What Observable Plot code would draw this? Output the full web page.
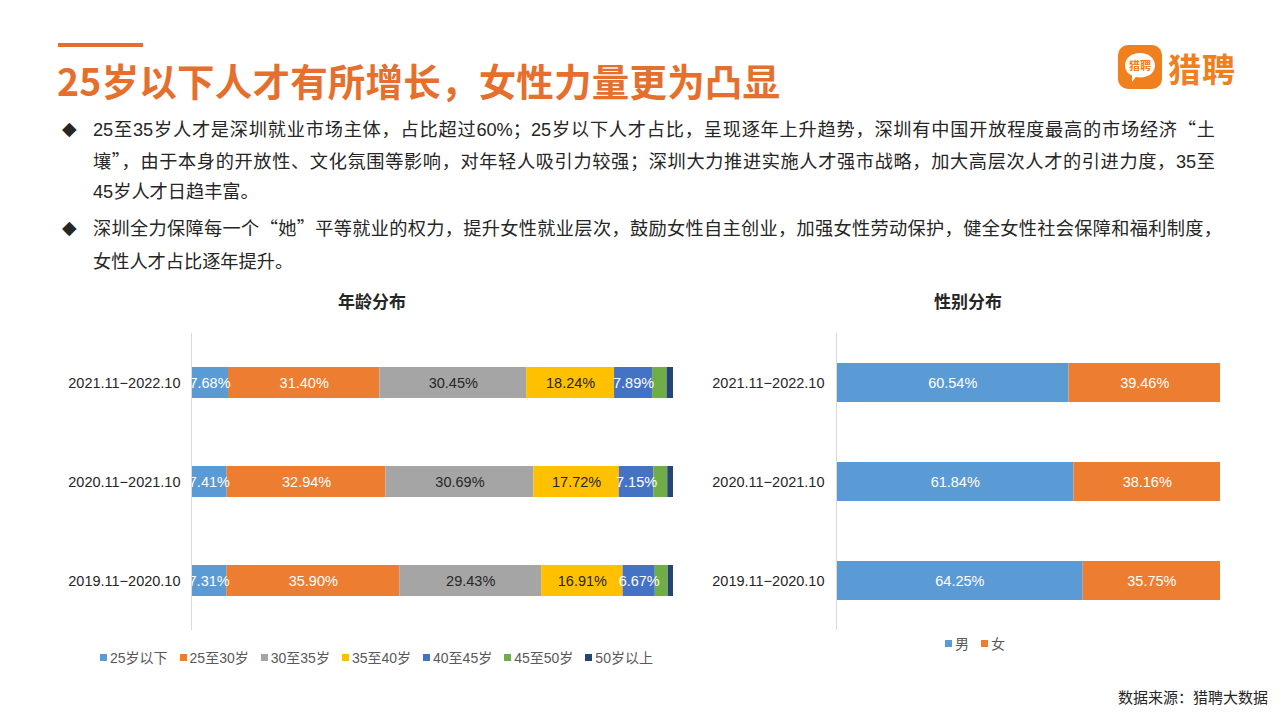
<!DOCTYPE html>
<html>
<head>
<meta charset="utf-8">
<script src="https://cdn.jsdelivr.net/npm/d3@7"></script>
<script src="https://cdn.jsdelivr.net/npm/@observablehq/plot@0.6"></script>
<style>
  html, body { margin:0; padding:0; background:#fff; }
  body { width:1280px; height:720px; position:relative; overflow:hidden;
         font-family:"Liberation Sans","Noto Sans CJK SC",sans-serif; color:#262626; }
  .abs { position:absolute; }
  .cjk { font-family:"Noto Sans CJK SC",sans-serif; }
  .topbar { left:58px; top:43px; width:85px; height:4px; background:#E5702E; }
  .title { left:57px; top:52px; font-size:37.5px; font-weight:700; color:#E5702E; white-space:nowrap; letter-spacing:0.2px;
           font-family:"Noto Sans CJK SC",sans-serif; }
  .bullet { font-size:19px; color:#262626; font-family:"DejaVu Sans",sans-serif; }
  .line { font-size:18.2px; white-space:nowrap; color:#262626; line-height:24px; }
  .just { text-align:justify; text-align-last:justify; white-space:normal; }
  .ctitle { font-size:17px; font-weight:700; color:#262626; transform:translateX(-50%); white-space:nowrap; font-family:"Noto Sans CJK SC",sans-serif; }
  .legend { display:flex; align-items:center; font-size:14px; color:#595959; white-space:nowrap; }
  .legend .item { display:flex; align-items:center; margin-right:12px; }
  .legend .sw { width:7px; height:7px; margin-right:3px; }
  .src { right:12px; top:686px; font-size:15px; color:#262626; }
  .logo-box { left:1118px; top:45px; width:44px; height:44px; border-radius:10px; background:#F07F1E; }
  .logo-text { left:1168px; top:44px; font-size:33px; font-weight:700; color:#F07F1E; letter-spacing:1px; font-family:"Noto Sans CJK SC",sans-serif; }
</style>
</head>
<body>
<div class="abs topbar"></div>
<div class="abs title">25岁以下人才有所增长，女性力量更为凸显</div>

<div class="abs logo-box">
  <svg width="44" height="44" viewBox="0 0 44 44">
    <path d="M22 8 C31 8 37 13.5 37 20.5 C37 27.5 31 32.5 22 32.5 C20.5 32.5 19 32.3 17.7 32 L14 37 L14 30.5 C9.5 28.5 7 25 7 20.5 C7 13.5 13 8 22 8 Z" fill="#fff"/>
    <text x="22" y="25" text-anchor="middle" font-size="11" font-weight="700" fill="#F07F1E" font-family="Noto Sans CJK SC">猎聘</text>
  </svg>
</div>
<div class="abs logo-text">猎聘</div>

<div class="abs bullet" style="left:62px; top:117px;">◆</div>
<div class="abs line just" style="left:93px; top:116px; width:1122px;">25至35岁人才是深圳就业市场主体，占比超过60%；25岁以下人才占比，呈现逐年上升趋势，深圳有中国开放程度最高的市场经济<span class="cjk">“</span>土</div>
<div class="abs line just" style="left:93px; top:148px; width:1122px;">壤<span class="cjk">”</span>，由于本身的开放性、文化氛围等影响，对年轻人吸引力较强；深圳大力推进实施人才强市战略，加大高层次人才的引进力度，35至</div>
<div class="abs line" style="left:93px; top:180px;">45岁人才日趋丰富。</div>
<div class="abs bullet" style="left:62px; top:216px;">◆</div>
<div class="abs line just" style="left:93px; top:215px; width:1129px;">深圳全力保障每一个<span class="cjk">“</span>她<span class="cjk">”</span>平等就业的权力，提升女性就业层次，鼓励女性自主创业，加强女性劳动保护，健全女性社会保障和福利制度，</div>
<div class="abs line" style="left:93px; top:250px;">女性人才占比逐年提升。</div>

<div class="abs ctitle" style="left:372px; top:288px;">年龄分布</div>
<div class="abs ctitle" style="left:968px; top:288px;">性别分布</div>

<div id="ageChart" class="abs" style="left:0px; top:333px;"></div>
<div id="genderChart" class="abs" style="left:690px; top:333px;"></div>

<div id="ageLegend" class="abs legend" style="left:100px; top:647px;"></div>
<div id="genderLegend" class="abs legend" style="left:945px; top:633px;"></div>

<div class="abs src">数据来源：猎聘大数据</div>

<script>
// ---- data ----
const periods = ["2021.11−2022.10", "2020.11−2021.10", "2019.11−2020.10"];
const ageGroups = ["25岁以下", "25至30岁", "30至35岁", "35至40岁", "40至45岁", "45至50岁", "50岁以上"];
const ageColors = ["#5B9BD5", "#ED7D31", "#A5A5A5", "#FFC000", "#4472C4", "#70AD47", "#264478"];
const age2022 = [7.68, 31.40, 30.45, 18.24, 7.89, 3.00, 1.34];
const age2021 = [7.41, 32.94, 30.69, 17.72, 7.15, 2.90, 1.19];
const age2020 = [7.31, 35.90, 29.43, 16.91, 6.67, 2.70, 1.08];
const ageRows = [age2022, age2021, age2020];
const whiteLabelAges = ["25岁以下", "25至30岁", "40至45岁"];
const darkLabelAges = ["30至35岁", "35至40岁"];

const genders = ["男", "女"];
const genderColors = ["#5B9BD5", "#ED7D31"];
const male = [60.54, 61.84, 64.25];
const female = [39.46, 38.16, 35.75];

const FONT = "'Liberation Sans','Noto Sans CJK SC',sans-serif";
const fmt = v => v.toFixed(2) + "%";

// ---- age chart ----
const ageData = [];
periods.forEach((p, i) => ageGroups.forEach((a, j) => ageData.push({period: p, age: a, value: ageRows[i][j]})));

const ageChart = Plot.plot({
  width: 690, height: 297,
  marginLeft: 191, marginRight: 17, marginTop: 0, marginBottom: 0,
  style: {fontFamily: FONT, fontSize: "14.5px", color: "#262626", background: "transparent"},
  x: {domain: [0, 100], axis: null},
  y: {domain: periods, paddingInner: 0.69, paddingOuter: 0.345, label: null, tickSize: 0, tickPadding: 11},
  color: {domain: ageGroups, range: ageColors},
  marks: [
    Plot.barX(ageData, {x: "value", y: "period", fill: "age"}),
    Plot.text(ageData, Plot.stackX({x: "value", y: "period",
      text: d => whiteLabelAges.includes(d.age) ? fmt(d.value) : null, fill: "white", fontSize: 14.5})),
    Plot.text(ageData, Plot.stackX({x: "value", y: "period",
      text: d => darkLabelAges.includes(d.age) ? fmt(d.value) : null, fill: "#262626", fontSize: 14.5})),
    Plot.ruleX([0], {stroke: "#d9d9d9"})
  ]
});
document.getElementById("ageChart").appendChild(ageChart);

// ---- gender chart ----
const genderData = [];
periods.forEach((p, i) => {
  genderData.push({period: p, gender: "男", value: male[i]});
  genderData.push({period: p, gender: "女", value: female[i]});
});
const genderChart = Plot.plot({
  width: 560, height: 297,
  marginLeft: 146, marginRight: 30, marginTop: 0, marginBottom: 0,
  style: {fontFamily: FONT, fontSize: "14.5px", color: "#262626", background: "transparent"},
  x: {domain: [0, 100], axis: null},
  y: {domain: periods, paddingInner: 0.61, paddingOuter: 0.305, label: null, tickSize: 0, tickPadding: 12},
  color: {domain: genders, range: genderColors},
  marks: [
    Plot.barX(genderData, {x: "value", y: "period", fill: "gender"}),
    Plot.text(genderData, Plot.stackX({x: "value", y: "period", text: d => fmt(d.value), fill: "white", fontSize: 14.5})),
    Plot.ruleX([0], {stroke: "#d9d9d9"})
  ]
});
document.getElementById("genderChart").appendChild(genderChart);

// ---- legends ----
function legend(el, names, colors) {
  names.forEach((n, i) => {
    const it = document.createElement("div");
    it.className = "item";
    it.innerHTML = `<span class="sw" style="background:${colors[i]}"></span><span>${n}</span>`;
    el.appendChild(it);
  });
}
legend(document.getElementById("ageLegend"), ageGroups, ageColors);
legend(document.getElementById("genderLegend"), genders, genderColors);
</script>
</body>
</html>
